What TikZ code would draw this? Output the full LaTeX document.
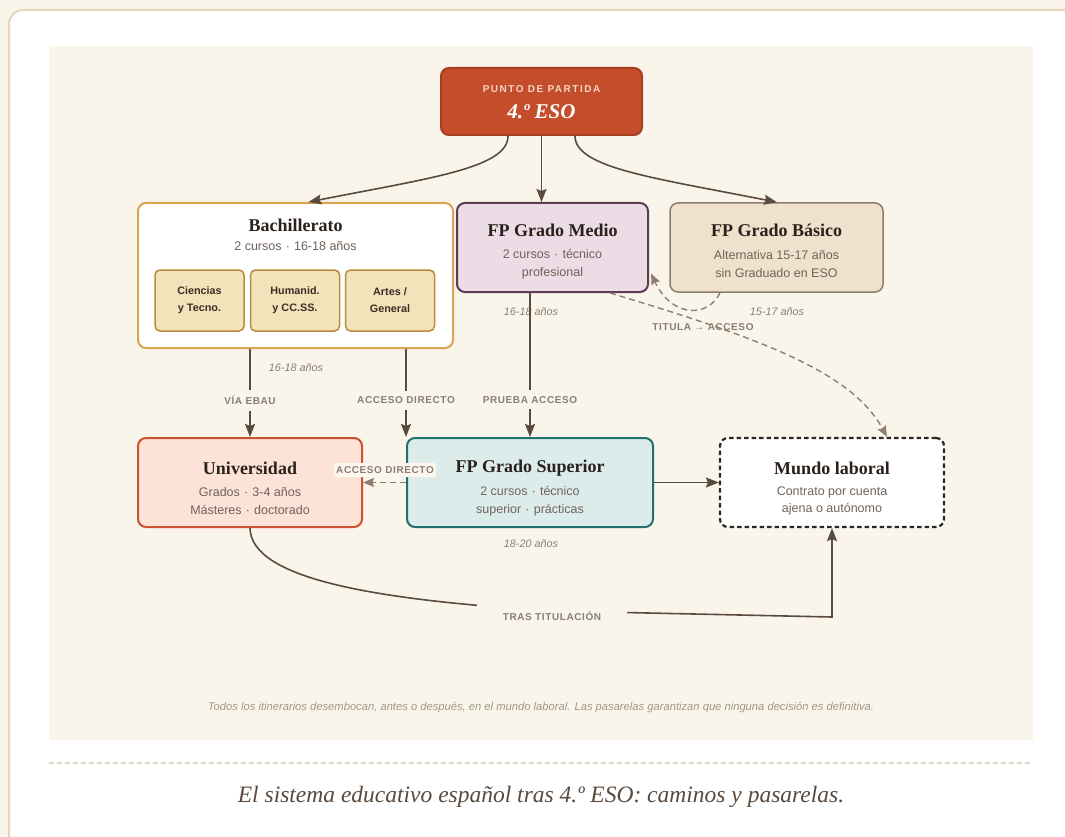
\documentclass[tikz,border=0pt]{standalone}
\usepackage{fontspec}
\setmainfont{Liberation Serif}
\setsansfont{Liberation Sans}
\newfontfamily\capsfont[LetterSpace=6]{Liberation Sans}
\newfontfamily\tagfont[LetterSpace=15]{Liberation Sans}
\usetikzlibrary{arrows.meta}

\definecolor{pagebg}{HTML}{FAF5EB}
\definecolor{panel}{HTML}{FAF5EB}
\definecolor{cardline}{HTML}{E6D5BC}
\definecolor{sepline}{HTML}{E3D6C3}
\definecolor{ink}{HTML}{2B211C}
\definecolor{subgray}{HTML}{6F635B}
\definecolor{labelgray}{HTML}{8A7D72}
\definecolor{notegray}{HTML}{A39689}
\definecolor{arrowc}{HTML}{5B4A3E}
\definecolor{dashc}{HTML}{8D7E71}
\definecolor{esofill}{HTML}{C44E2C}
\definecolor{esoline}{HTML}{A3401F}
\definecolor{esotag}{HTML}{F5D5C5}
\definecolor{bachline}{HTML}{DBA550}
\definecolor{optfill}{HTML}{F3E3BA}
\definecolor{optline}{HTML}{B98B3B}
\definecolor{opttext}{HTML}{3A2E25}
\definecolor{mediofill}{HTML}{ECDCE5}
\definecolor{medioline}{HTML}{5D3B53}
\definecolor{basicofill}{HTML}{EFE2CC}
\definecolor{basicoline}{HTML}{8E7D6C}
\definecolor{unifill}{HTML}{FDE3D7}
\definecolor{uniline}{HTML}{C9532E}
\definecolor{supfill}{HTML}{DCECEB}
\definecolor{supline}{HTML}{21706E}
\definecolor{mundoline}{HTML}{2D2724}
\definecolor{tagfill}{HTML}{FCF7EE}
\definecolor{caption}{HTML}{5A4A3E}

\tikzset{
  stagebox/.style={rectangle, rounded corners=8pt, line width=2pt, inner sep=0pt},
  optbox/.style={rectangle, rounded corners=5pt, line width=1.5pt, fill=optfill, draw=optline,
    minimum width=89pt, minimum height=61pt, inner sep=0pt, align=center,
    font=\sffamily\bfseries\fontsize{10.8}{17}\selectfont, text=opttext},
  titletext/.style={font=\bfseries\fontsize{18}{20}\selectfont, text=ink, inner sep=0pt},
  subtext/.style={font=\sffamily\fontsize{12.5}{17.5}\selectfont, text=subgray, align=center, inner sep=0pt},
  agetext/.style={font=\sffamily\itshape\fontsize{10.8}{12}\selectfont, text=dashc, inner sep=0pt},
  capslabel/.style={font=\capsfont\bfseries\fontsize{10}{12}\selectfont, text=labelgray},
  steplabel/.style={capslabel, fill=panel, inner xsep=3pt, inner ysep=6pt},
  flow/.style={draw=arrowc, line width=1.6pt, -{Stealth[length=13pt,width=10pt,inset=2pt]}},
  bridge/.style={draw=dashc, line width=1.4pt, dash pattern=on 6pt off 4pt,
    -{Stealth[length=11pt,width=9pt,inset=1.5pt]}},
}

\begin{document}
\begin{tikzpicture}[x=1pt,y=-1pt]
\useasboundingbox (0,0) rectangle (1065,837);
\clip (0,0) rectangle (1065,837);

% page, card and panel
\fill[pagebg] (0,0) rectangle (1065,837);
\draw[cardline, line width=2pt, fill=white, rounded corners=14pt] (9,10) rectangle (1090,870);
\fill[panel] (49,46) rectangle (1033,740);
\draw[sepline, line width=1.3pt, dash pattern=on 5pt off 3pt] (49,763) -- (1033,763);

% starting point
\node[stagebox, fill=esofill, draw=esoline, minimum width=201pt, minimum height=67pt] (eso) at (541.5,101.5) {};
\node[font=\tagfont\bfseries\fontsize{10}{12}\selectfont, text=esotag, inner sep=0pt] (esotagline) at (541.5,89) {PUNTO DE PARTIDA};
\node[font=\bfseries\itshape\fontsize{21}{24}\selectfont, text=white, inner sep=0pt] (esoname) at (541.5,112) {4.º ESO};

% Bachillerato
\node[stagebox, fill=white, draw=bachline, minimum width=315pt, minimum height=145pt] (bach) at (295.5,275.5) {};
\node[titletext] (bachtitle) at (295.5,225) {Bachillerato};
\node[subtext] (bachsub) at (295.5,246) {2 cursos\,\,·\,\,16-18 años};
\node[optbox] (cien) at (199.5,300.5) {Ciencias\\y Tecno.};
\node[optbox] (hum) at (295,300.5) {Humanid.\\y CC.SS.};
\node[optbox] (artes) at (390,300.5) {Artes /\\General};

% FP Grado Medio
\node[stagebox, fill=mediofill, draw=medioline, minimum width=191pt, minimum height=89pt] (medio) at (552.5,247.5) {};
\node[titletext] (mediotitle) at (552.5,230) {FP Grado Medio};
\node[subtext] (mediosub) at (552.5,264) {2 cursos\,\,·\,\,técnico\\profesional};

% FP Grado Basico
\node[stagebox, line width=1.5pt, fill=basicofill, draw=basicoline, minimum width=213pt, minimum height=89pt] (basico) at (776.5,247.5) {};
\node[titletext] (basicotitle) at (776.5,230) {FP Grado Básico};
\node[subtext] (basicosub) at (776.5,264) {Alternativa 15-17 años\\sin Graduado en ESO};

% Universidad
\node[stagebox, fill=unifill, draw=uniline, minimum width=224pt, minimum height=89pt] (uni) at (250,482.5) {};
\node[titletext] (unititle) at (250,468) {Universidad};
\node[subtext] (unisub) at (250,501) {Grados\,\,·\,\,3-4 años\\Másteres\,\,·\,\,doctorado};

% FP Grado Superior
\node[stagebox, fill=supfill, draw=supline, minimum width=246pt, minimum height=89pt] (sup) at (530,482.5) {};
\node[titletext] (suptitle) at (530,468) {FP Grado Superior};
\node[subtext] (supsub) at (530,501) {2 cursos\,\,·\,\,técnico\\superior\,\,·\,\,prácticas};

% Mundo laboral
\node[stagebox, fill=white, draw=mundoline, line width=2.2pt, dash pattern=on 4.5pt off 3pt, minimum width=224pt, minimum height=89pt] (mundo) at (832,482.5) {};
\node[titletext] (mundotitle) at (832,468) {Mundo laboral};
\node[subtext] (mundosub) at (832,501) {Contrato por cuenta\\ajena o autónomo};

% age notes
\node[agetext] (agebach) at (296,368) {16-18 años};
\node[agetext] (agemedio) at (531,312) {16-18 años};
\node[agetext] (agebasico) at (777,312) {15-17 años};
\node[agetext] (agesup) at (531,544) {18-20 años};

% helper columns
\coordinate (colb) at (406,0);
\coordinate (colm) at (530,0);
\coordinate (turn) at (832,617);

% arrows out of 4.º ESO
\draw[flow] ([xshift=-33.5pt]eso.south) .. controls (508,168) and (430,178) .. ([xshift=13pt]bach.north);
\draw[flow] (eso.south) -- (eso.south |- medio.north);
\draw[flow] ([xshift=33.5pt]eso.south) .. controls (575,168) and (655,178) .. ([xshift=0.5pt]basico.north);

% vertical transitions
\draw[flow] (uni.north |- bach.south) -- node[steplabel, pos=0.58] (ebau) {VÍA EBAU} (uni.north);
\draw[flow] (colb |- bach.south) -- node[steplabel, pos=0.58] (accdir) {ACCESO DIRECTO} (colb |- sup.north);
\draw[flow] (colm |- medio.south) -- node[steplabel, pos=0.74] (prueba) {PRUEBA ACCESO} (colm |- sup.north);

% FP Superior to work
\draw[flow] (sup.east) -- (mundo.west);

% bridges
\draw[bridge] (sup.west) -- (uni.east);
\node[capslabel, fill=tagfill, rounded corners=2pt, inner xsep=2pt, inner ysep=3.5pt] (accdir2) at (385,470) {ACCESO DIRECTO};

\draw[bridge] ([xshift=-56.5pt]basico.south) .. controls (708,318) and (672,318) .. ([xshift=2pt,yshift=-26pt]medio.east);
\draw[bridge] ([xshift=57.5pt]medio.south) .. controls (760,338) and (852,372) .. ([xshift=55pt]mundo.north);
\node[capslabel, inner sep=0pt] (titula) at (703,327) {TITULA → ACCESO};

% after graduating
\draw[flow] (uni.south) .. controls (251,578) and (370,600) .. (555,611) -- (turn) -- (mundo.south);
\node[capslabel, fill=panel, inner xsep=26pt, inner ysep=10pt] (tras) at (552,616) {TRAS TITULACIÓN};

% footnote and caption
\node[font=\sffamily\itshape\fontsize{11.2}{13}\selectfont, text=notegray, inner sep=0pt] (note) at (541,708)
  {Todos los itinerarios desembocan, antes o después, en el mundo laboral. Las pasarelas garantizan que ninguna decisión es definitiva.};
\node[font=\itshape\fontsize{23.5}{26}\selectfont, text=caption, inner sep=0pt] (cap) at (541,797)
  {El sistema educativo español tras 4.º ESO: caminos y pasarelas.};
\end{tikzpicture}
\end{document}
